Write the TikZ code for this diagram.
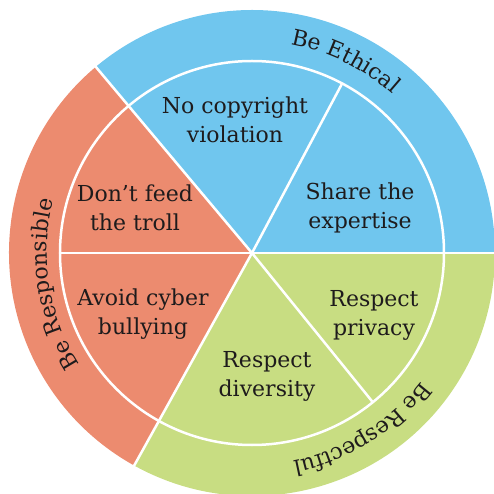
\documentclass[tikz,border=0pt]{standalone}
\usepackage{fontspec}
\setmainfont{DejaVu Serif}
\usetikzlibrary{decorations.text}
\definecolor{ethicblue}{RGB}{112,198,238}
\definecolor{respred}{RGB}{236,139,111}
\definecolor{respgreen}{RGB}{200,221,130}
\definecolor{inktext}{RGB}{30,27,28}
\newcommand{\ringfont}{\fontsize{22}{26}\selectfont\color{inktext}}

\begin{document}
\begin{tikzpicture}[x=1pt,y=1pt,
  sep/.style={white,line width=2.5pt},
  item/.style={align=center,text=inktext,font=\fontsize{22}{29}\selectfont},
  ringtext/.style={decorate,decoration={text along path,text align=center,text={|\ringfont|#1}}}]
\useasboundingbox (-252,-241) rectangle (241,253);

% coloured sectors
\fill[ethicblue] (0,0) -- (0:243) arc[start angle=0,end angle=130,radius=243] -- cycle;
\fill[respred] (0,0) -- (130:243) arc[start angle=130,end angle=241,radius=243] -- cycle;
\fill[respgreen] (0,0) -- (241:243) arc[start angle=241,end angle=360,radius=243] -- cycle;

% white separators
\draw[sep] (0,0) circle[radius=192];
\foreach \a in {0,130,241} \draw[sep] (0,0) -- (\a:246);
\foreach \a in {62,180,309} \draw[sep] (0,0) -- (\a:192);

% inner items
\node[item] (copy) at (-17,133) {No copyright\\violation};
\node[item] (share) at (108,45) {Share the\\expertise};
\node[item] (troll) at (-117,45) {Don’t feed\\the troll};
\node[item] (bully) at (-109,-61) {Avoid cyber\\bullying};
\node[item] (privacy) at (122,-62) {Respect\\privacy};
\node[item] (diversity) at (15,-123) {Respect\\diversity};

% ring labels
\path[ringtext={Be Ethical}] (100:212) arc[start angle=100,end angle=28,radius=212];
\path[ringtext={Be Responsible}] (232:205) arc[start angle=232,end angle=146,radius=205];
\path[ringtext={Be Respectful}] (345:212) arc[start angle=345,end angle=259,radius=212];
\end{tikzpicture}
\end{document}
